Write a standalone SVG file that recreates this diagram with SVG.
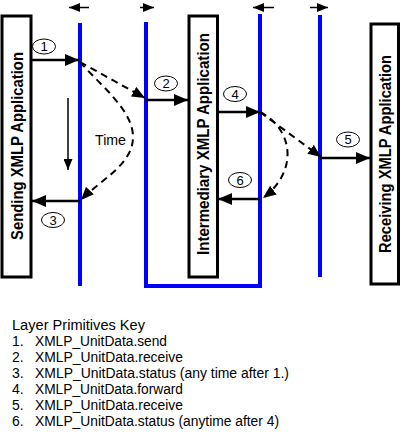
<svg xmlns="http://www.w3.org/2000/svg" width="402" height="446" viewBox="0 0 402 446">
<style>
.layer{fill:none;stroke:#0000FF;stroke-width:4}
.box{fill:#FFFFFF;stroke:#000000;stroke-width:3}
.boxtxt{font-family:"Liberation Sans",Arial,sans-serif;font-weight:bold;font-size:16px;fill:#000000}
.solid{fill:none;stroke:#000000;stroke-width:2.5}
.thin{fill:none;stroke:#000000;stroke-width:1.5}
.dash{fill:none;stroke:#000000;stroke-width:2;stroke-dasharray:7 5}
.num{fill:none;stroke:#000000;stroke-width:1}
.numtxt{font-family:"Liberation Sans",Arial,sans-serif;font-size:13px;fill:#000000;text-anchor:middle}
.txt{font-family:"Liberation Sans",Arial,sans-serif;font-size:14px;fill:#000000}
</style>
<defs>
<marker id="big" markerUnits="userSpaceOnUse" markerWidth="14" markerHeight="12" refX="14" refY="6" orient="auto">
<path d="M0,0 L14,6 L0,12 Z" fill="#000000"/>
</marker>
<marker id="dh" markerUnits="userSpaceOnUse" markerWidth="13" markerHeight="11" refX="13" refY="5.5" orient="auto">
<path d="M0,0 L13,5.5 L0,11 Z" fill="#000000"/>
</marker>
<marker id="sm" markerUnits="userSpaceOnUse" markerWidth="11" markerHeight="9" refX="11" refY="4.5" orient="auto">
<path d="M0,0 L11,4.5 L0,9 Z" fill="#000000"/>
</marker>
</defs>
<rect width="402" height="446" fill="#FFFFFF"/>

<g id="layer-lines">
<path class="layer" d="M80,23 V286"/>
<path class="layer" d="M146,22 V286 H260 V14"/>
<path class="layer" d="M320,15 V277"/>
</g>

<g id="sending">
<rect class="box" x="2" y="16" width="29" height="261"/>
<text class="boxtxt" transform="translate(16.5,146) rotate(-90)" x="0" y="6" text-anchor="middle" textLength="188" lengthAdjust="spacingAndGlyphs">Sending XMLP Application</text>
</g>
<g id="intermediary">
<rect class="box" x="189" y="16" width="28.5" height="261"/>
<text class="boxtxt" transform="translate(203,144) rotate(-90)" x="0" y="6" text-anchor="middle" textLength="222" lengthAdjust="spacingAndGlyphs">Intermediary XMLP Application</text>
</g>
<g id="receiving">
<rect class="box" x="371" y="24" width="27.5" height="260"/>
<text class="boxtxt" transform="translate(385,154) rotate(-90)" x="0" y="6" text-anchor="middle" textLength="198" lengthAdjust="spacingAndGlyphs">Receiving XMLP Application</text>
</g>

<g id="connectors">
<path class="thin" d="M89,7.5 H69" marker-end="url(#sm)"/>
<path class="thin" d="M140,7.5 H154" marker-end="url(#sm)"/>
<path class="thin" d="M274,7.5 H253" marker-end="url(#sm)"/>
<path class="thin" d="M310,7.5 H328" marker-end="url(#sm)"/>
<path class="thin" d="M68,98 V170" marker-end="url(#sm)"/>
<path class="solid" d="M31,60 H79" marker-end="url(#big)"/>
<path class="solid" d="M146,100 H188" marker-end="url(#big)"/>
<path class="solid" d="M80,201 H32" marker-end="url(#big)"/>
<path class="solid" d="M217,112 H260" marker-end="url(#big)"/>
<path class="solid" d="M320,158 H370" marker-end="url(#big)"/>
<path class="solid" d="M260,199 H218" marker-end="url(#big)"/>
<path class="dash" d="M80,62 L145,98" marker-end="url(#dh)"/>
<path class="dash" d="M80,62 C100,85 133,110 133,137 C133,165 100,180 81,200" marker-end="url(#dh)"/>
<path class="dash" d="M260,112 L321,157" marker-end="url(#dh)"/>
<path class="dash" d="M260,112 C292,128 300,170 263,198" marker-end="url(#dh)"/>
</g>

<g id="step-labels">
<ellipse class="num" cx="44" cy="46.5" rx="11.5" ry="7.5"/>
<text class="numtxt" x="44" y="51">1</text>
<ellipse class="num" cx="166" cy="83.5" rx="11.5" ry="7.5"/>
<text class="numtxt" x="166" y="88">2</text>
<ellipse class="num" cx="53" cy="220" rx="11.5" ry="7.5"/>
<text class="numtxt" x="53" y="224.5">3</text>
<ellipse class="num" cx="235" cy="94" rx="11.5" ry="7.5"/>
<text class="numtxt" x="235" y="98.5">4</text>
<ellipse class="num" cx="348" cy="139.5" rx="11.5" ry="7.5"/>
<text class="numtxt" x="348" y="144">5</text>
<ellipse class="num" cx="240" cy="180" rx="11.5" ry="7.5"/>
<text class="numtxt" x="240" y="184.5">6</text>
<text class="txt" x="95" y="145" textLength="31" lengthAdjust="spacingAndGlyphs">Time</text>
</g>

<g id="legend">
<text class="txt" x="12" y="330" textLength="133" lengthAdjust="spacingAndGlyphs">Layer Primitives Key</text>
<text class="txt" x="12" y="346">1.</text>
<text class="txt" x="35" y="346" textLength="132" lengthAdjust="spacingAndGlyphs">XMLP_UnitData.send</text>
<text class="txt" x="12" y="362">2.</text>
<text class="txt" x="35" y="362" textLength="148" lengthAdjust="spacingAndGlyphs">XMLP_UnitData.receive</text>
<text class="txt" x="12" y="378">3.</text>
<text class="txt" x="35" y="378" textLength="254" lengthAdjust="spacingAndGlyphs">XMLP_UnitData.status (any time after 1.)</text>
<text class="txt" x="12" y="394">4.</text>
<text class="txt" x="35" y="394" textLength="148" lengthAdjust="spacingAndGlyphs">XMLP_UnitData.forward</text>
<text class="txt" x="12" y="410">5.</text>
<text class="txt" x="35" y="410" textLength="148" lengthAdjust="spacingAndGlyphs">XMLP_UnitData.receive</text>
<text class="txt" x="12" y="426">6.</text>
<text class="txt" x="35" y="426" textLength="244" lengthAdjust="spacingAndGlyphs">XMLP_UnitData.status (anytime after 4)</text>
</g>
</svg>
